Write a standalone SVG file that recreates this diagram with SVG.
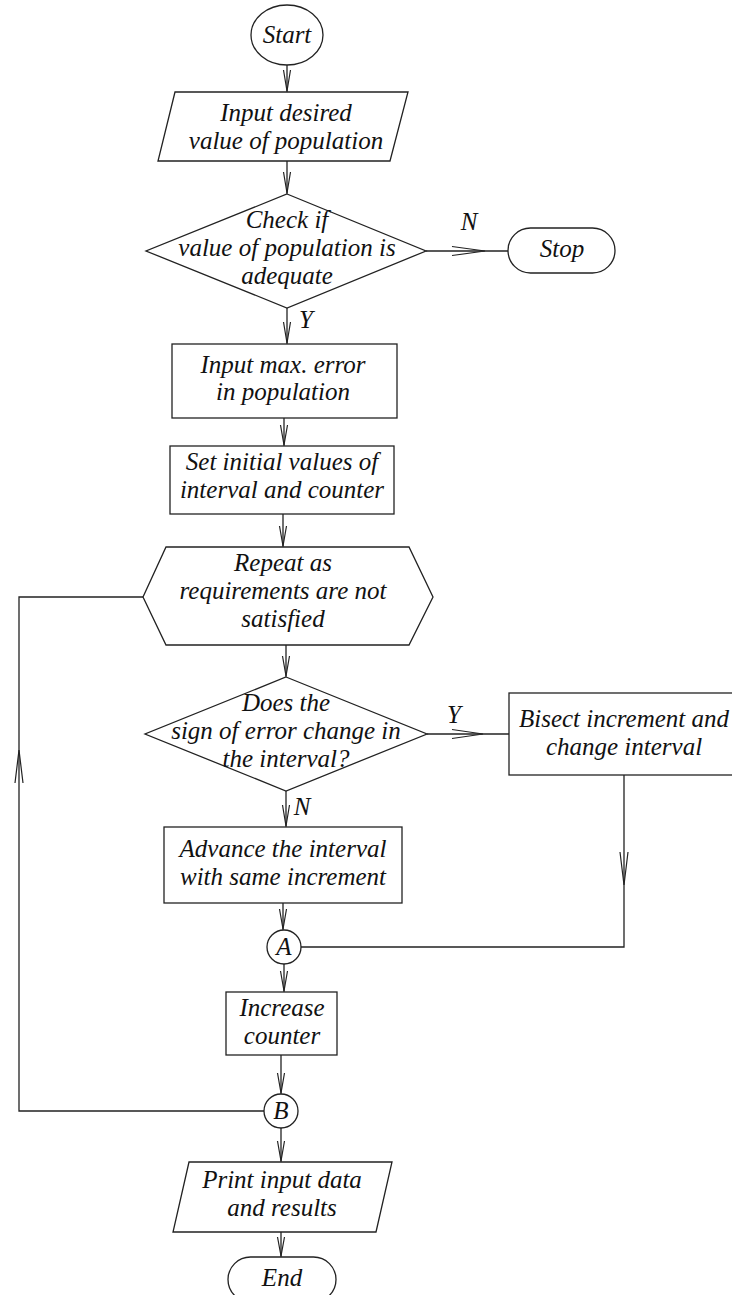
<svg xmlns="http://www.w3.org/2000/svg" width="732" height="1295" viewBox="0 0 732 1295">
<style>
.s{fill:#fff;stroke:#222;stroke-width:1.3}
.c{fill:none;stroke:#222;stroke-width:1.3}
.ah{fill:none;stroke:#222;stroke-width:1.2}
text{font-family:"Liberation Serif","Times New Roman",serif;font-style:italic;font-size:25px;fill:#111;text-anchor:middle}
</style>
<rect width="732" height="1295" fill="#fff"/>
<g id="connectors">
<path class="c" d="M287,65 V92"/><path class="ah" d="M283.5,70 L287,91 L290.5,70"/>
<path class="c" d="M287,161 V194"/><path class="ah" d="M283.5,172 L287,193 L290.5,172"/>
<path class="c" d="M426,251 H508"/><path class="ah" d="M452,246.5 L485,251 L452,255.5"/>
<text x="469" y="230">N</text>
<path class="c" d="M287,308 V344"/><path class="ah" d="M283.5,322 L287,343 L290.5,322"/>
<text x="306" y="328">Y</text>
<path class="c" d="M284,418 V446"/><path class="ah" d="M280.5,425 L284,445 L287.5,425"/>
<path class="c" d="M283,514 V547"/><path class="ah" d="M279.5,526 L283,546 L286.5,526"/>
<path class="c" d="M286,645 V677"/><path class="ah" d="M282.5,656 L286,676 L289.5,656"/>
<path class="c" d="M427,734 H509"/><path class="ah" d="M452,729.5 L483,734 L452,738.5"/>
<text x="454" y="723">Y</text>
<path class="c" d="M286,791 V827"/><path class="ah" d="M282.5,805 L286,826 L289.5,805"/>
<text x="302" y="815">N</text>
<path class="c" d="M624,775 V947 H301"/><path class="ah" d="M620,852 L624,885 L628,852"/>
<path class="c" d="M283,903 V930"/><path class="ah" d="M279.5,909 L283,929 L286.5,909"/>
<path class="c" d="M284,964 V992"/><path class="ah" d="M280.5,971 L284,991 L287.5,971"/>
<path class="c" d="M281,1055 V1094"/><path class="ah" d="M277.5,1073 L281,1093 L284.5,1073"/>
<path class="c" d="M264,1111 H19 V597 H143"/><path class="ah" d="M15,783 L19,750 L23,783"/>
<path class="c" d="M281,1128 V1162"/><path class="ah" d="M277.5,1141 L281,1161 L284.5,1141"/>
<path class="c" d="M281,1232 V1257"/><path class="ah" d="M277.5,1237 L281,1256 L284.5,1237"/>
</g>
<g id="start"><ellipse class="s" cx="287" cy="35" rx="36" ry="30"/><text x="287" y="43">Start</text></g>
<g id="input-desired"><polygon class="s" points="175,92 408,92 390,161 158,161"/><text x="286" y="121">Input desired</text><text x="286" y="149">value of population</text></g>
<g id="check"><polygon class="s" points="287,194 426,251 287,308 146,251"/><text x="287" y="228">Check if</text><text x="287" y="256">value of population is</text><text x="287" y="284">adequate</text></g>
<g id="stop"><rect class="s" x="508" y="228" width="107" height="45" rx="22.5"/><text x="562" y="257">Stop</text></g>
<g id="input-max"><rect class="s" x="172" y="344" width="225" height="74"/><text x="283" y="373">Input max. error</text><text x="283" y="400">in population</text></g>
<g id="set-initial"><rect class="s" x="170" y="446" width="224" height="68"/><text x="282" y="470">Set initial values of</text><text x="282" y="498">interval and counter</text></g>
<g id="repeat"><polygon class="s" points="143,597 166,547 409,547 433,597 409,645 166,645"/><text x="283" y="571">Repeat as</text><text x="283" y="599">requirements are not</text><text x="283" y="627">satisfied</text></g>
<g id="does-sign"><polygon class="s" points="286,677 427,734 286,791 145,734"/><text x="286" y="711">Does the</text><text x="286" y="739">sign of error change in</text><text x="286" y="767">the interval?</text></g>
<g id="bisect"><rect class="s" x="509" y="693" width="234" height="82"/><text x="624" y="727">Bisect increment and</text><text x="624" y="755">change interval</text></g>
<g id="advance"><rect class="s" x="164" y="827" width="238" height="76"/><text x="283" y="857">Advance the interval</text><text x="283" y="885">with same increment</text></g>
<g id="conn-a"><circle class="s" cx="284" cy="947" r="17"/><text x="284" y="955">A</text></g>
<g id="increase"><rect class="s" x="226" y="992" width="111" height="63"/><text x="282" y="1016">Increase</text><text x="282" y="1044">counter</text></g>
<g id="conn-b"><circle class="s" cx="281" cy="1111" r="17"/><text x="281" y="1119">B</text></g>
<g id="print"><polygon class="s" points="189,1162 392,1162 376,1232 173,1232"/><text x="282" y="1188">Print input data</text><text x="282" y="1216">and results</text></g>
<g id="end"><rect class="s" x="228" y="1257" width="108" height="45" rx="22.5"/><text x="282" y="1286">End</text></g>
</svg>
